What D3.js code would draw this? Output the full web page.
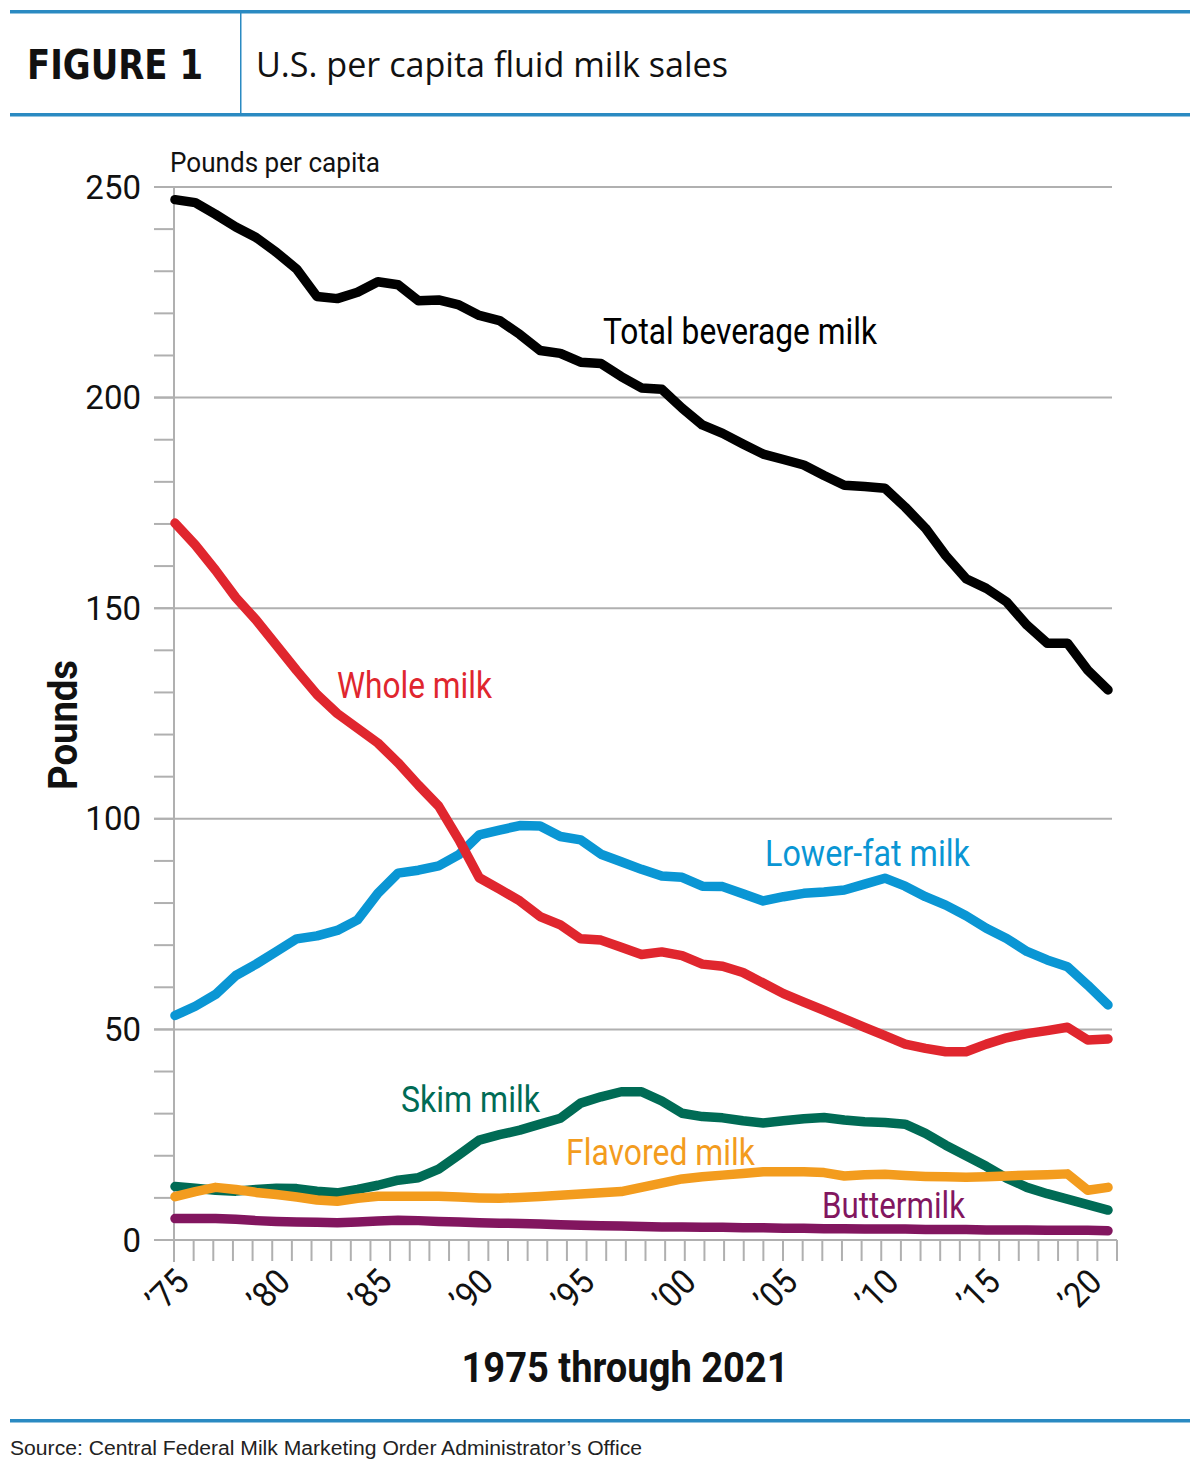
<!DOCTYPE html>
<html>
<head>
<meta charset="utf-8">
<script src="https://cdn.jsdelivr.net/npm/d3@7"></script>
<style>
  html, body { margin: 0; padding: 0; background: #fff; }
  svg { display: block; }
</style>
</head>
<body>
<svg id="chart" width="1200" height="1467"></svg>
<script>
const years = d3.range(1975, 2022);

const totalMilk = [247, 246.3, 243.5, 240.5, 238, 234.5, 230.5, 224, 223.5, 225,
  227.5, 226.8, 223, 223.2, 222, 219.5, 218.3, 215, 211.2, 210.5,
  208.4, 208.1, 205, 202.3, 202, 197.5, 193.5, 191.5, 189, 186.6,
  185.3, 184, 181.5, 179.2, 178.9, 178.5, 174, 169, 162.5, 157,
  154.7, 151.5, 146, 141.7, 141.7, 135.3, 130.6];

const wholeMilk = [170.2, 165, 159, 152.5, 147.2, 141.2, 135.2, 129.5, 125, 121.5,
  118, 113.3, 108, 103, 95, 86, 83.3, 80.5, 76.8, 74.8,
  71.5, 71.2, 69.5, 67.8, 68.4, 67.5, 65.5, 65, 63.5, 61,
  58.5, 56.5, 54.5, 52.5, 50.5, 48.5, 46.5, 45.5, 44.7, 44.7,
  46.5, 48, 49, 49.7, 50.5, 47.5, 47.7];

const lowerFatMilk = [53.3, 55.5, 58.3, 62.8, 65.5, 68.5, 71.5, 72.2, 73.5, 76,
  82.3, 87.1, 87.8, 88.8, 91.5, 96.2, 97.3, 98.4, 98.3, 95.8,
  95, 91.6, 89.8, 88, 86.4, 86.1, 84, 83.9, 82.2, 80.5,
  81.5, 82.3, 82.6, 83.1, 84.5, 85.9, 84, 81.5, 79.5, 77,
  74, 71.6, 68.5, 66.5, 64.9, 60.5, 55.8];

const skimMilk = [12.7, 12.3, 11.8, 11.6, 12, 12.3, 12.2, 11.6, 11.2, 12,
  13, 14.2, 14.8, 16.8, 20.2, 23.7, 25, 26.1, 27.5, 28.9,
  32.5, 34, 35.2, 35.2, 33, 30.1, 29.3, 29, 28.3, 27.8,
  28.3, 28.8, 29.1, 28.5, 28.1, 27.9, 27.5, 25.3, 22.5, 20,
  17.5, 14.7, 12.5, 11, 9.7, 8.4, 7.1];

const flavoredMilk = [10.3, 11.5, 12.5, 12, 11.3, 10.8, 10.2, 9.5, 9.2, 9.9,
  10.4, 10.4, 10.4, 10.4, 10.2, 10, 9.9, 10.1, 10.3, 10.6,
  10.9, 11.2, 11.5, 12.5, 13.5, 14.5, 15, 15.4, 15.8, 16.2,
  16.2, 16.2, 16, 15.2, 15.5, 15.6, 15.3, 15.1, 15, 14.9,
  15, 15.2, 15.4, 15.5, 15.7, 11.8, 12.5];

const buttermilk = [5.1, 5.1, 5.1, 4.9, 4.6, 4.4, 4.3, 4.2, 4.1, 4.3,
  4.5, 4.7, 4.6, 4.4, 4.3, 4.1, 4, 3.9, 3.8, 3.6,
  3.5, 3.4, 3.3, 3.2, 3.1, 3.1, 3, 3, 2.9, 2.9,
  2.8, 2.8, 2.7, 2.7, 2.6, 2.6, 2.6, 2.5, 2.5, 2.5,
  2.4, 2.4, 2.4, 2.3, 2.3, 2.3, 2.2];

const seriesNames = ["Lower-fat milk", "Whole milk", "Skim milk", "Flavored milk", "Buttermilk", "Total beverage milk"];
const seriesValues = [lowerFatMilk, wholeMilk, skimMilk, flavoredMilk, buttermilk, totalMilk];
const seriesColors = ["#0a96d4", "#e0262e", "#006b55", "#f39c1e", "#82165f", "#000000"];

const xTickLabelYears = [1975, 1980, 1985, 1990, 1995, 2000, 2005, 2010, 2015, 2020];
const xTickLabels = ["\u201975", "\u201980", "\u201985", "\u201990", "\u201995", "\u201900", "\u201905", "\u201910", "\u201915", "\u201920"];
const yGridValues = [0, 50, 100, 150, 200, 250];
const yMinorValues = d3.range(0, 251, 10);
const xMinorTickCount = 49;

const svg = d3.select("#chart");
const blue = "#2a8ac2";
const grey = "#b0b0b0";
const narrow = "'Roboto', 'Liberation Sans', sans-serif";

// Header
svg.append("rect").attr("x", 10).attr("y", 10).attr("width", 1180).attr("height", 3.5).attr("fill", blue);
svg.append("rect").attr("x", 10).attr("y", 113).attr("width", 1180).attr("height", 3.5).attr("fill", blue);
svg.append("rect").attr("x", 240).attr("y", 12).attr("width", 1.5).attr("height", 102).attr("fill", blue);
svg.append("text").attr("x", 27).attr("y", 79)
  .attr("font-family", "'DejaVu Sans Condensed', 'DejaVu Sans', sans-serif")
  .attr("font-weight", "bold").attr("font-size", 41)
  .attr("textLength", 176).attr("lengthAdjust", "spacingAndGlyphs")
  .attr("fill", "#111").text("FIGURE 1");
svg.append("text").attr("x", 256).attr("y", 77)
  .attr("font-family", "'Open Sans', 'Noto Sans', sans-serif")
  .attr("font-size", 35)
  .attr("textLength", 472).attr("lengthAdjust", "spacingAndGlyphs")
  .attr("fill", "#111").text("U.S. per capita fluid milk sales");

// Footer
svg.append("rect").attr("x", 10).attr("y", 1419).attr("width", 1180).attr("height", 3.5).attr("fill", blue);
svg.append("text").attr("x", 10).attr("y", 1455)
  .attr("font-family", "'Liberation Sans', Arial, sans-serif")
  .attr("font-size", 20).attr("fill", "#222")
  .attr("textLength", 632).attr("lengthAdjust", "spacingAndGlyphs")
  .text("Source: Central Federal Milk Marketing Order Administrator\u2019s Office");

// Scales
const x = d3.scaleLinear().domain([1975, 2021]).range([175, 1108]);
const y = d3.scaleLinear().domain([0, 250]).range([1240, 187]);
const xTick = d3.scaleLinear().domain([0, xMinorTickCount - 1]).range([174, 1117]);

// Gridlines
svg.append("g").selectAll("line").data(yGridValues.filter(v => v > 0)).join("line")
  .attr("x1", 154).attr("x2", 1112)
  .attr("y1", d => y(d)).attr("y2", d => y(d))
  .attr("stroke", grey).attr("stroke-width", 2);
// Minor y ticks
svg.append("g").selectAll("line").data(yMinorValues).join("line")
  .attr("x1", 154).attr("x2", 174)
  .attr("y1", d => y(d)).attr("y2", d => y(d))
  .attr("stroke", grey).attr("stroke-width", 2);
// baseline
svg.append("line").attr("x1", 154).attr("x2", 1117).attr("y1", y(0)).attr("y2", y(0))
  .attr("stroke", grey).attr("stroke-width", 2);
// y axis
svg.append("line").attr("x1", 174).attr("x2", 174).attr("y1", y(250)).attr("y2", 1262)
  .attr("stroke", grey).attr("stroke-width", 2);
// x ticks
svg.append("g").selectAll("line").data(d3.range(xMinorTickCount)).join("line")
  .attr("x1", d => xTick(d)).attr("x2", d => xTick(d))
  .attr("y1", y(0)).attr("y2", 1261)
  .attr("stroke", grey).attr("stroke-width", 2);

// y labels
svg.append("g").selectAll("text").data(yGridValues).join("text")
  .attr("x", 141).attr("y", d => y(d) + 11.5)
  .attr("text-anchor", "end")
  .attr("font-family", narrow).attr("font-size", 33).attr("fill", "#111")
  .text(d => d);

// x labels
svg.append("g").selectAll("text").data(xTickLabelYears).join("text")
  .attr("transform", (d) => `translate(${x(d) + 16},${1284}) rotate(-45) scale(0.92,1)`)
  .attr("text-anchor", "end")
  .attr("font-family", narrow).attr("font-size", 35).attr("fill", "#111")
  .text((d, i) => xTickLabels[i]);

// Axis titles
svg.append("text").attr("x", 170).attr("y", 172)
  .attr("font-family", narrow).attr("font-size", 28).attr("fill", "#111")
  .attr("textLength", 210).attr("lengthAdjust", "spacingAndGlyphs")
  .text("Pounds per capita");
svg.append("text").attr("transform", "translate(77,725) rotate(-90)")
  .attr("text-anchor", "middle")
  .attr("font-family", narrow).attr("font-weight", "bold").attr("font-size", 40).attr("fill", "#111")
  .attr("textLength", 130).attr("lengthAdjust", "spacingAndGlyphs")
  .text("Pounds");
svg.append("text").attr("x", 625).attr("y", 1382)
  .attr("text-anchor", "middle")
  .attr("font-family", narrow).attr("font-weight", "bold").attr("font-size", 42).attr("fill", "#111")
  .attr("textLength", 327).attr("lengthAdjust", "spacingAndGlyphs")
  .text("1975 through 2021");

// Lines
const line = d3.line().x((d, i) => x(years[i])).y(d => y(d));
svg.append("g").selectAll("path").data(seriesValues).join("path")
  .attr("d", d => line(d))
  .attr("fill", "none")
  .attr("stroke", (d, i) => seriesColors[i])
  .attr("stroke-width", 9.5)
  .attr("stroke-linecap", "round")
  .attr("stroke-linejoin", "round");

// Series labels
const labelPos = [
  {name: "Lower-fat milk", x: 765, y: 866, w: 205},
  {name: "Whole milk", x: 337, y: 698, w: 155},
  {name: "Skim milk", x: 401, y: 1112, w: 139},
  {name: "Flavored milk", x: 566, y: 1165, w: 189},
  {name: "Buttermilk", x: 822, y: 1218, w: 143},
  {name: "Total beverage milk", x: 603, y: 344, w: 274}
];
svg.append("g").selectAll("text").data(labelPos).join("text")
  .attr("x", d => d.x).attr("y", d => d.y)
  .attr("font-family", narrow).attr("font-size", 37)
  .attr("textLength", d => d.w).attr("lengthAdjust", "spacingAndGlyphs")
  .attr("fill", d => seriesColors[seriesNames.indexOf(d.name)])
  .text(d => d.name);
</script>
</body>
</html>
